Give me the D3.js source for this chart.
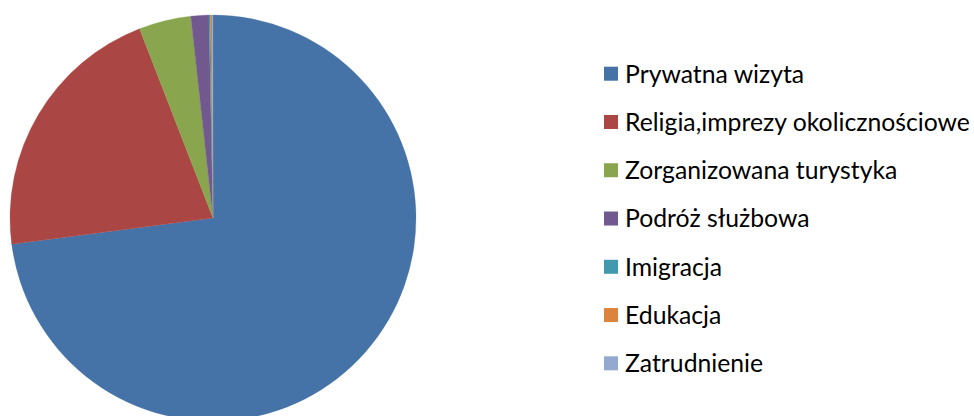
<!DOCTYPE html>
<html>
<head>
<meta charset="utf-8">
<script src="https://cdn.jsdelivr.net/npm/d3@7"></script>
<style>
html,body{margin:0;padding:0;background:#fff;overflow:hidden;}
svg{display:block;}
</style>
</head>
<body>
<svg id="chart" width="974" height="416"></svg>
<script>
const categories = ["Prywatna wizyta","Religia,imprezy okolicznościowe","Zorganizowana turystyka","Podróż służbowa","Imigracja","Edukacja","Zatrudnienie"];
const values = [72.94, 21.17, 4.15, 1.42, 0.12, 0.12, 0.08];
const colors = ["#4572A7","#AA4643","#89A54E","#71588F","#4198AF","#DB843D","#93A9CF"];

const svg = d3.select("#chart");
const cx = 213, cy = 218, r = 203;

const pie = d3.pie().sort(null).value(d => d.v);
const arc = d3.arc().innerRadius(0).outerRadius(r);
const data = categories.map((c,i)=>({c, v: values[i], col: colors[i]}));

svg.append("g").attr("transform", `translate(${cx},${cy})`)
  .selectAll("path").data(pie(data)).join("path")
  .attr("d", arc)
  .attr("fill", d => d.data.col)
  .attr("stroke", d => d.data.col)
  .attr("stroke-width", 0.3)
  .attr("stroke-linejoin","round");

const legend = svg.append("g");
const y0 = 73.7, dy = 48.27;
const fontFamily = "Lato, 'Open Sans', sans-serif";
const rows = legend.selectAll("g").data(data).join("g")
  .attr("transform", (d,i)=>`translate(0,${y0 + i*dy})`);
rows.append("rect").attr("x", 604).attr("y", -7).attr("width", 14).attr("height", 14)
  .attr("fill", d => d.col);
const texts = rows.append("text").attr("x", 625).attr("y", 0).attr("dy", "0.36em")
  .attr("font-family", fontFamily).attr("font-size", 20).attr("fill", "#000")
  .text(d => d.c);
const maxW = d3.max(texts.nodes(), n => n.getComputedTextLength());
const fs = 20 * 345 / maxW;
texts.attr("font-size", fs);
</script>
</body>
</html>
